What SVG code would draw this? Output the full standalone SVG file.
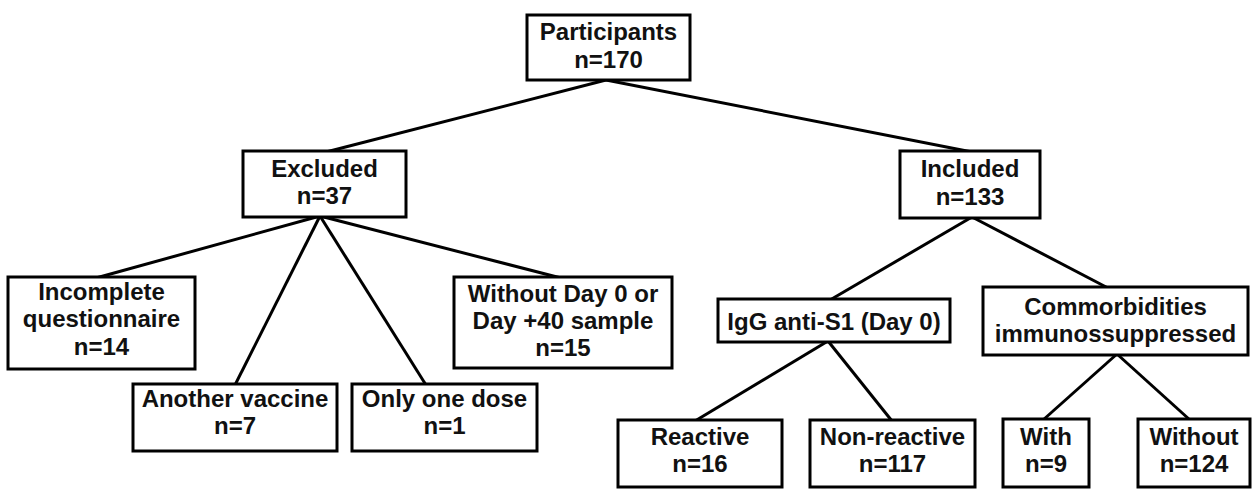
<svg xmlns="http://www.w3.org/2000/svg" width="1253" height="489" viewBox="0 0 1253 489">
<style>
.box{fill:#fff;stroke:#000;stroke-width:3}
.ln{stroke:#000;stroke-width:3;fill:none}
text{font-family:"Liberation Sans",Arial,sans-serif;font-weight:bold;font-size:24px;fill:#111;text-anchor:middle}
</style>
<rect width="1253" height="489" fill="#fff"/>
<g id="connectors">
<line class="ln" x1="606" y1="80" x2="326" y2="152"/>
<line class="ln" x1="606" y1="80" x2="972" y2="152"/>
<line class="ln" x1="320" y1="216" x2="96" y2="278"/>
<line class="ln" x1="320" y1="216" x2="235" y2="385"/>
<line class="ln" x1="320" y1="216" x2="426" y2="385"/>
<line class="ln" x1="320" y1="216" x2="561" y2="278"/>
<line class="ln" x1="972" y1="217" x2="830" y2="300"/>
<line class="ln" x1="972" y1="217" x2="1108" y2="288"/>
<line class="ln" x1="828" y1="341" x2="695" y2="421"/>
<line class="ln" x1="828" y1="341" x2="892" y2="421"/>
<line class="ln" x1="1117" y1="354" x2="1043" y2="420"/>
<line class="ln" x1="1117" y1="354" x2="1190" y2="420"/>
</g>
<g id="participants"><rect class="box" x="527" y="15" width="163" height="65"/><text x="608.5" y="40">Participants</text><text x="608.5" y="68">n=170</text></g>
<g id="excluded"><rect class="box" x="243" y="151" width="163" height="66"/><text x="324.5" y="177">Excluded</text><text x="324.5" y="204">n=37</text></g>
<g id="included"><rect class="box" x="900" y="151" width="140" height="67"/><text x="970" y="177">Included</text><text x="970" y="205">n=133</text></g>
<g id="incomplete"><rect class="box" x="8" y="277" width="187" height="92"/><text x="101.5" y="300">Incomplete</text><text x="101.5" y="327">questionnaire</text><text x="101.5" y="355">n=14</text></g>
<g id="without-day0"><rect class="box" x="454" y="277" width="218" height="91"/><text x="563" y="302">Without Day 0 or</text><text x="563" y="329">Day +40 sample</text><text x="563" y="356">n=15</text></g>
<g id="another-vaccine"><rect class="box" x="133" y="384" width="204" height="67"/><text x="235" y="407">Another vaccine</text><text x="235" y="434">n=7</text></g>
<g id="one-dose"><rect class="box" x="352" y="384" width="185" height="67"/><text x="444.5" y="407">Only one dose</text><text x="444.5" y="434">n=1</text></g>
<g id="igg"><rect class="box" x="718" y="299" width="232" height="43"/><text x="834" y="330">IgG anti-S1 (Day 0)</text></g>
<g id="commorbidities"><rect class="box" x="983" y="287" width="265" height="68"/><text x="1115.5" y="315">Commorbidities</text><text x="1115.5" y="342">immunossuppressed</text></g>
<g id="reactive"><rect class="box" x="618" y="420" width="164" height="67"/><text x="700" y="445">Reactive</text><text x="700" y="472">n=16</text></g>
<g id="non-reactive"><rect class="box" x="810" y="420" width="165" height="67"/><text x="892.5" y="445">Non-reactive</text><text x="892.5" y="472">n=117</text></g>
<g id="with"><rect class="box" x="1003" y="419" width="86" height="68"/><text x="1046" y="445">With</text><text x="1046" y="472">n=9</text></g>
<g id="without"><rect class="box" x="1138" y="419" width="112" height="68"/><text x="1194" y="445">Without</text><text x="1194" y="472">n=124</text></g>
</svg>
